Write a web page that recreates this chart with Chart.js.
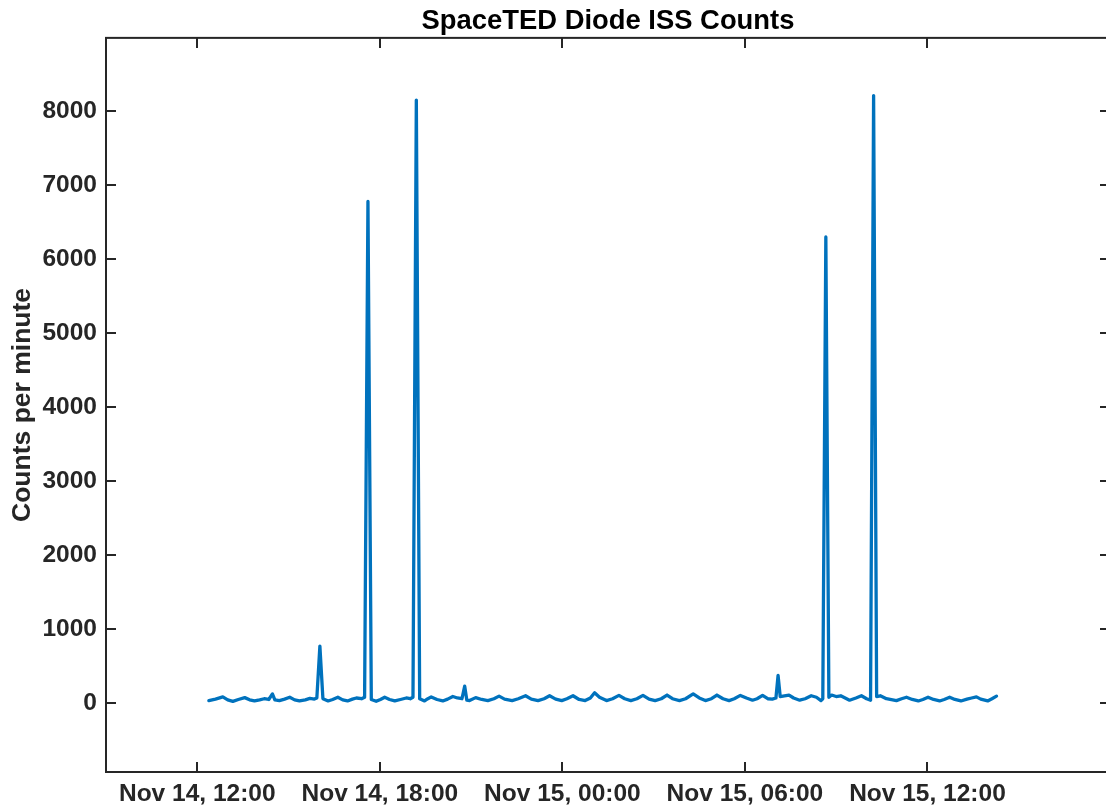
<!DOCTYPE html>
<html>
<head>
<meta charset="utf-8">
<script src="https://cdn.jsdelivr.net/npm/chart.js@4/dist/chart.umd.min.js"></script>
<style>
  html, body { margin: 0; padding: 0; background: #ffffff; overflow: hidden; width: 1106px; height: 811px; }
  #c { display: block; }
</style>
</head>
<body>
<canvas id="c" width="1216" height="811"></canvas>
<script>
// Time in hours since Nov 14, 00:00
const times = [
  12.38, 12.6, 12.84, 13.0, 13.17, 13.35, 13.56, 13.72, 13.88, 14.05, 14.2, 14.35, 14.47, 14.55, 14.7, 14.87,
  15.04, 15.2, 15.36, 15.55, 15.7, 15.85, 15.93, 16.03, 16.13, 16.3, 16.45, 16.62, 16.78, 16.94, 17.1, 17.23,
  17.4, 17.5, 17.61, 17.72, 17.88, 18.02, 18.16, 18.32, 18.49, 18.68, 18.87, 19.0, 19.09, 19.2, 19.31, 19.47,
  19.58, 19.69, 19.88, 20.07, 20.23, 20.4, 20.55, 20.7, 20.79, 20.86, 20.95, 21.15, 21.35, 21.55, 21.75, 21.92,
  22.1, 22.35, 22.55, 22.79, 22.98, 23.2, 23.4, 23.58, 23.78, 23.98, 24.15, 24.35, 24.55, 24.75, 24.92, 25.06,
  25.22, 25.45, 25.65, 25.86, 26.05, 26.25, 26.45, 26.65, 26.85, 27.05, 27.25, 27.44, 27.62, 27.85, 28.05, 28.3,
  28.5, 28.7, 28.9, 29.08, 29.28, 29.48, 29.65, 29.85, 30.05, 30.25, 30.4, 30.58, 30.75, 30.9, 31.02, 31.09,
  31.16, 31.3, 31.45, 31.6, 31.8, 31.98, 32.18, 32.35, 32.5, 32.56, 32.66, 32.76, 32.85, 33.0, 33.15, 33.44,
  33.65, 33.83, 34.0, 34.13, 34.23, 34.33, 34.45, 34.65, 34.98, 35.15, 35.31, 35.5, 35.7, 35.85, 36.02, 36.2,
  36.4, 36.55, 36.73, 36.9, 37.1, 37.3, 37.45, 37.61, 37.75, 37.98, 38.12, 38.27
];
const counts = [
  35, 55, 85, 45, 25, 50, 75, 45, 30, 45, 60, 50, 125, 45, 35, 55,
  80, 45, 30, 45, 65, 55, 70, 770, 60, 30, 50, 80, 45, 30, 55, 70,
  60, 80, 6780, 50, 25, 50, 80, 50, 30, 50, 70, 60, 80, 8150, 60, 30,
  60, 85, 50, 30, 55, 90, 70, 60, 230, 40, 35, 75, 50, 35, 60, 95,
  55, 35, 60, 100, 55, 35, 60, 100, 55, 35, 60, 100, 50, 35, 70, 140,
  80, 35, 60, 105, 60, 35, 60, 105, 55, 35, 60, 110, 60, 35, 60, 125,
  70, 35, 60, 110, 60, 35, 60, 105, 70, 40, 60, 105, 60, 55, 70, 375,
  90, 100, 110, 70, 40, 60, 100, 80, 35, 60, 6300, 80, 110, 90, 100, 40,
  70, 100, 60, 40, 8210, 90, 100, 60, 35, 60, 80, 50, 30, 50, 80, 50,
  30, 50, 80, 50, 30, 55, 70, 85, 55, 30, 60, 95
];
const xTickValues = [12, 18, 24, 30, 36];
const xTickLabels = ['Nov 14, 12:00', 'Nov 14, 18:00', 'Nov 15, 00:00', 'Nov 15, 06:00', 'Nov 15, 12:00'];
const yTickValues = [0, 1000, 2000, 3000, 4000, 5000, 6000, 7000, 8000];
const xRange = [9, 42];
const yRange = [-930, 8990];

const AX = '#262626';
const FONT = "'Liberation Sans', Arial, Helvetica, sans-serif";

const boxPlugin = {
  id: 'matlabBox',
  afterDraw(chart) {
    const { ctx, chartArea: { left, right, top, bottom }, scales: { x, y } } = chart;
    const L = 10;
    ctx.save();
    ctx.strokeStyle = AX;
    ctx.lineWidth = 2;
    ctx.lineCap = 'butt';
    ctx.strokeRect(left, top, right - left, bottom - top);
    ctx.beginPath();
    x.ticks.forEach(t => {
      const px = Math.round(x.getPixelForValue(t.value));
      ctx.moveTo(px, bottom); ctx.lineTo(px, bottom - L);
      ctx.moveTo(px, top); ctx.lineTo(px, top + L);
    });
    y.ticks.forEach(t => {
      const py = Math.round(y.getPixelForValue(t.value));
      ctx.moveTo(left, py); ctx.lineTo(left + L, py);
      ctx.moveTo(right, py); ctx.lineTo(right - L, py);
    });
    ctx.stroke();
    ctx.restore();
  }
};

new Chart(document.getElementById('c'), {
  type: 'line',
  data: {
    datasets: [{
      data: times.map((t, i) => ({ x: t, y: counts[i] })),
      borderColor: '#0072BD',
      borderWidth: 3.3,
      pointRadius: 0,
      tension: 0,
      fill: false,
      borderJoinStyle: 'round',
      borderCapStyle: 'round'
    }]
  },
  options: {
    responsive: false,
    animation: false,
    devicePixelRatio: 1,
    layout: { padding: { left: 0, right: 106, top: 0, bottom: 0 } },
    plugins: {
      legend: { display: false },
      tooltip: { enabled: false },
      title: {
        display: true,
        fullSize: false,
        text: 'SpaceTED Diode ISS Counts',
        color: '#000000',
        font: { family: FONT, size: 27.4, weight: 'bold', lineHeight: 1.2 },
        padding: { top: 5, bottom: 0 }
      }
    },
    scales: {
      x: {
        type: 'linear',
        min: xRange[0],
        max: xRange[1],
        grid: { display: false, drawTicks: false },
        border: { display: false },
        afterBuildTicks(scale) { scale.ticks = xTickValues.map(v => ({ value: v })); },
        afterFit(scale) { scale.height = 39; },
        ticks: {
          padding: 8,
          color: AX,
          autoSkip: false,
          maxRotation: 0,
          font: { family: FONT, size: 24.5, weight: 'bold', lineHeight: 1.2 },
          callback(value) {
            const i = xTickValues.indexOf(value);
            return i >= 0 ? xTickLabels[i] : '';
          }
        }
      },
      y: {
        type: 'linear',
        min: yRange[0],
        max: yRange[1],
        grid: { display: false, drawTicks: false },
        border: { display: false },
        afterBuildTicks(scale) { scale.ticks = yTickValues.map(v => ({ value: v })); },
        afterFit(scale) { scale.width = 106; },
        title: {
          display: true,
          text: 'Counts per minute',
          color: AX,
          font: { family: FONT, size: 26.5, weight: 'bold', lineHeight: 1.2 },
          padding: { top: 7, bottom: 0 }
        },
        ticks: {
          padding: 9,
          color: AX,
          font: { family: FONT, size: 24.5, weight: 'bold', lineHeight: 1.2 },
          callback(value) { return String(value); }
        }
      }
    }
  },
  plugins: [boxPlugin]
});
</script>
</body>
</html>
